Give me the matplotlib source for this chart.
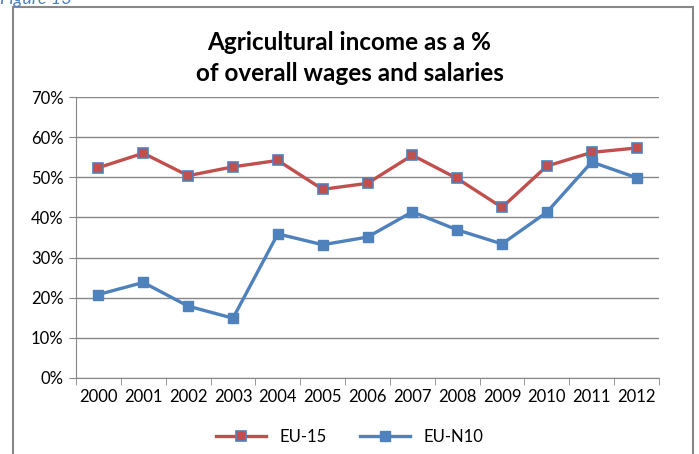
import numpy as np
import matplotlib.pyplot as plt
from matplotlib.patches import Rectangle
from matplotlib.ticker import PercentFormatter

years = ['2000', '2001', '2002', '2003', '2004', '2005', '2006',
         '2007', '2008', '2009', '2010', '2011', '2012']
eu15 = [52.4, 56.0, 50.4, 52.6, 54.2, 47.0, 48.5, 55.5, 49.7, 42.5, 52.8, 56.2, 57.3]
eun10 = [20.8, 23.8, 17.9, 14.9, 35.9, 33.2, 35.1, 41.4, 36.9, 33.4, 41.3, 53.8, 49.9]

red = '#C0504D'
blue = '#4F81BD'
plt.rcParams['font.family'] = ['Lato', 'DejaVu Sans']

fig = plt.figure(figsize=(6.99, 4.54), dpi=100)
ax = fig.add_axes([76 / 699, 1 - 378 / 454, 583 / 699, 281 / 454])

# рамка всей диаграммы
fig.patches.append(Rectangle((13 / 699, -0.1), 680 / 699, 1.1 - 7 / 454,
                             transform=fig.transFigure, fill=False,
                             edgecolor='#878787', linewidth=1.5))
fig.text(0.0, 1 - 4 / 454, 'Figure 13', color='#4F81BD', style='italic',
         fontsize=13, va='baseline', ha='left')

x = np.arange(len(years))
ax.plot(x, eu15, color=red, linewidth=2.4, marker='s', markersize=7,
        markerfacecolor=red, markeredgecolor=blue, markeredgewidth=1.2,
        label='EU-15', zorder=3)
ax.plot(x, eun10, color=blue, linewidth=2.4, marker='s', markersize=7.5,
        markerfacecolor=blue, markeredgecolor=blue, label='EU-N10', zorder=3)

ax.set_xlim(-0.5, len(years) - 0.5)
ax.set_ylim(0, 70)
ax.set_yticks(np.arange(0, 71, 10))
ax.yaxis.set_major_formatter(PercentFormatter(decimals=0))
ax.set_xticks(x)
ax.set_xticklabels(years)
ax.set_xticks(np.arange(-0.5, len(years), 1), minor=True)
ax.tick_params(axis='x', which='major', length=0, pad=8, labelsize=12)
ax.tick_params(axis='x', which='minor', length=5, color='#878787', direction='out')
ax.tick_params(axis='y', length=5, color='#878787', labelsize=12, pad=4)

ax.grid(axis='y', color='#878787', linewidth=1)
ax.set_axisbelow(True)
for s in ['top', 'right']:
    ax.spines[s].set_visible(False)
ax.spines['left'].set_color('#878787')
ax.spines['bottom'].set_color('#878787')

fig.text(0.5, 1 - 58 / 454, 'Agricultural income as a %\nof overall wages and salaries',
         ha='center', va='center', fontsize=17.5, fontweight='bold', linespacing=1.4)

fig.legend(loc='center', bbox_to_anchor=(0.5, 1 - 437 / 454), ncol=2,
           frameon=False, fontsize=12, handlelength=3, columnspacing=2)

fig.savefig('out.png', dpi=100)
